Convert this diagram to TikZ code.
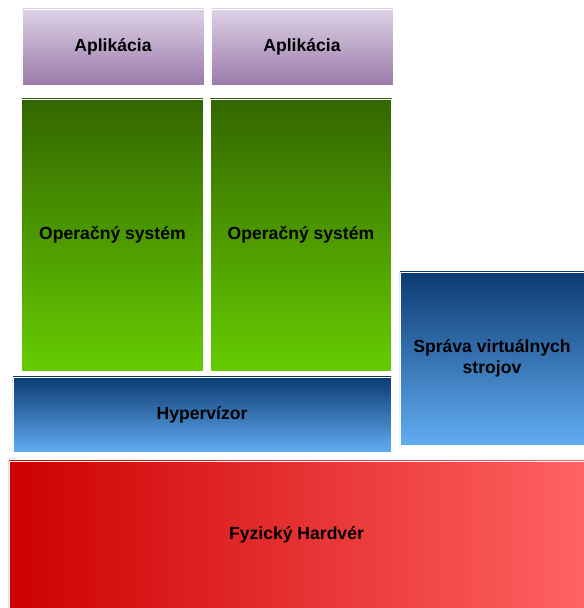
\documentclass[tikz,border=0pt]{standalone}
\usepackage{fontspec}
\setmainfont{Liberation Sans}
\usepackage{tikz}
\usetikzlibrary{positioning}

\definecolor{appTop}{HTML}{DDD1E6}
\definecolor{appBot}{HTML}{9B7BAA}
\definecolor{osTop}{HTML}{336600}
\definecolor{osBot}{HTML}{66CC00}
\definecolor{hvTop}{HTML}{0B3A72}
\definecolor{hvBot}{HTML}{62ACF2}
\definecolor{hwLeft}{HTML}{CC0000}
\definecolor{hwRight}{HTML}{FF6262}

\begin{document}
\begin{tikzpicture}[x=0.025cm, y=-0.025cm,
    every node/.style={font=\fontsize{12.5}{15}\selectfont\bfseries, inner sep=0pt, outer sep=0pt, align=center},
    layer/.style={draw=white, line width=0.6pt, rectangle},
    appbox/.style={layer, top color=appTop, bottom color=appBot, minimum width=4.55cm, minimum height=1.9cm},
    osbox/.style={layer, top color=osTop, bottom color=osBot, minimum width=4.53cm, minimum height=6.8cm},
    hvbox/.style={layer, top color=hvTop, bottom color=hvBot}]
			\useasboundingbox (0,0) rectangle (584,608);
			
			% Anwendungen
			\node[appbox] (app1) at (113,47) {Aplikácia};
			\node[appbox] (app2) at (302,47) {Aplikácia};
			
			% Betriebssysteme
			\node[osbox] (os1) at (112.5,235) {Operačný systém};
			\node[osbox] (os2) at (301,235) {Operačný systém};
			
			% Hypervisor und Verwaltung
			\node[hvbox, minimum width=9.45cm, minimum height=1.875cm] (hyp) at (202,414.5) {Hypervízor};
			\node[hvbox, minimum width=4.6cm, minimum height=4.325cm] (mgmt) at (492,358.5) {Správa virtuálnych\\strojov};
			
			% Hardware
			\node[layer, left color=hwLeft, right color=hwRight, minimum width=14.375cm, minimum height=3.675cm] (hw) at (296.5,534.5) {Fyzický Hardvér};
		\end{tikzpicture}
\end{document}
